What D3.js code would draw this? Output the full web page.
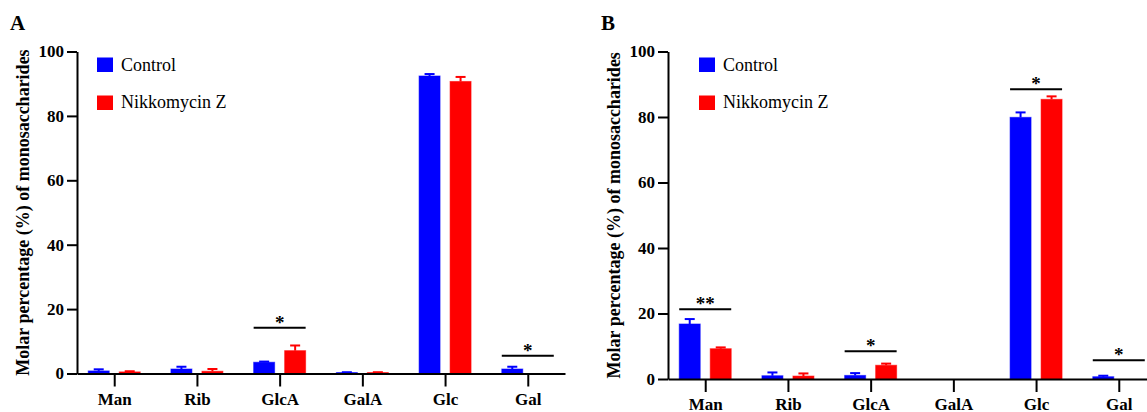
<!DOCTYPE html>
<html>
<head>
<meta charset="utf-8">
<script src="https://cdn.jsdelivr.net/npm/d3@7"></script>
<style>
body { margin: 0; background: #fff; }
svg { display: block; }
text { font-family: "Liberation Serif", "Tinos", "Times New Roman", Times, "DejaVu Serif", serif; }
</style>
</head>
<body>
<div id="chart"></div>
<script>
var w = 1147;
var h = 412;
var serif = "'Liberation Serif', Tinos, 'Times New Roman', Times, 'DejaVu Serif', serif";

var categories = ["Man", "Rib", "GlcA", "GalA", "Glc", "Gal"];
var yTicks = [0, 20, 40, 60, 80, 100];
var seriesNames = ["Control", "Nikkomycin Z"];
var seriesColors = ["#0000ff", "#ff0000"];

// panel A
var controlA = [0.8, 1.4, 3.5, 0.3, 92.4, 1.4];
var controlAErr = [0.5, 0.7, 0.2, 0.1, 0.6, 0.7];
var nikkA = [0.5, 0.7, 7.1, 0.3, 90.7, 0];
var nikkAErr = [0.2, 0.7, 1.6, 0.1, 1.4, 0];
var sigA = [{ cat: "GlcA", y: 14.2, label: "*" }, { cat: "Gal", y: 5.5, label: "*" }];

// panel B
var controlB = [16.8, 1.0, 1.1, 0, 79.9, 0.7];
var controlBErr = [1.5, 1.0, 0.7, 0, 1.5, 0.3];
var nikkB = [9.25, 0.9, 4.2, 0, 85.4, 0];
var nikkBErr = [0.4, 0.8, 0.5, 0, 0.9, 0];
var sigB = [{ cat: "Man", y: 21.3, label: "**" }, { cat: "GlcA", y: 8.5, label: "*" },
            { cat: "Glc", y: 88.5, label: "*" }, { cat: "Gal", y: 5.7, label: "*" }];

var svg = d3.select("#chart")
            .append("svg")
            .attr("width", w)
            .attr("height", h)
            .attr("font-family", serif);

function drawPanel(p) {
    var g = svg.append("g").attr("font-family", serif);

    var x = d3.scalePoint()
              .domain(categories)
              .range([p.x0, p.x1])
              .padding(0.45);
    var y = d3.scaleLinear()
              .domain([0, 100])
              .range([p.y0, p.y1]);

    var off = 15.5, bw = 21;
    var series = [
        { vals: p.control, errs: p.controlErr, dx: -off, color: seriesColors[0] },
        { vals: p.nikk, errs: p.nikkErr, dx: off, color: seriesColors[1] }
    ];

    series.forEach(function (s) {
        var rows = categories.map(function (c, i) {
            return { cat: c, v: s.vals[i], e: s.errs[i] };
        }).filter(function (d) { return d.v > 0; });

        // error bars (upper only)
        g.selectAll(null)
         .data(rows.filter(function (d) { return d.e > 0; }))
         .enter()
         .append("line")
         .attr("x1", function (d) { return x(d.cat) + s.dx; })
         .attr("x2", function (d) { return x(d.cat) + s.dx; })
         .attr("y1", function (d) { return y(d.v); })
         .attr("y2", function (d) { return y(d.v + d.e); })
         .style("stroke", s.color)
         .style("stroke-width", 2);
        g.selectAll(null)
         .data(rows.filter(function (d) { return d.e > 0; }))
         .enter()
         .append("line")
         .attr("x1", function (d) { return x(d.cat) + s.dx - 5; })
         .attr("x2", function (d) { return x(d.cat) + s.dx + 5; })
         .attr("y1", function (d) { return y(d.v + d.e); })
         .attr("y2", function (d) { return y(d.v + d.e); })
         .style("stroke", s.color)
         .style("stroke-width", 2);

        g.selectAll(null)
         .data(rows)
         .enter()
         .append("rect")
         .attr("x", function (d) { return x(d.cat) + s.dx - bw / 2; })
         .attr("width", bw)
         .attr("y", function (d) { return y(d.v); })
         .attr("height", function (d) { return y(0) - y(d.v); })
         .style("fill", s.color)
         .style("stroke", s.color)
         .style("stroke-opacity", 0.55)
         .style("stroke-width", 1);
    });

    // significance lines
    g.selectAll(null)
     .data(p.sig)
     .enter()
     .append("line")
     .attr("x1", function (d) { return x(d.cat) - 26; })
     .attr("x2", function (d) { return x(d.cat) + 26; })
     .attr("y1", function (d) { return y(d.y); })
     .attr("y2", function (d) { return y(d.y); })
     .style("stroke", "#000")
     .style("stroke-width", 2);
    g.selectAll(null)
     .data(p.sig)
     .enter()
     .append("text")
     .attr("x", function (d) { return x(d.cat); })
     .attr("y", function (d) { return y(d.y) + 1; })
     .attr("text-anchor", "middle")
     .style("font-size", "19px")
     .style("font-weight", "bold")
     .text(function (d) { return d.label; });

    // axes
    var yAxis = g.append("g")
                 .attr("transform", "translate(" + p.x0 + ",0)")
                 .call(d3.axisLeft(y).tickValues(yTicks).tickSize(10).tickSizeOuter(0).tickPadding(3));
    var xAxis = g.append("g")
                 .attr("transform", "translate(0," + p.y0 + ")")
                 .call(d3.axisBottom(x).tickSize(13).tickSizeOuter(0).tickPadding(6));

    [yAxis, xAxis].forEach(function (a) {
        a.attr("font-family", serif).attr("font-size", null);
        a.select(".domain").style("stroke", "#000").style("stroke-width", 2);
        a.selectAll(".tick line").style("stroke", "#000").style("stroke-width", 2);
        a.selectAll(".tick text")
         .style("font-size", "17px")
         .style("font-weight", "bold")
         .style("fill", "#000");
    });

    // y title
    g.append("text")
     .attr("transform", "translate(" + (p.x0 - 48) + "," + ((p.y0 + p.y1) / 2) + ") rotate(-90)")
     .attr("text-anchor", "middle")
     .style("font-size", "18px")
     .style("font-weight", "bold")
     .text("Molar percentage (%) of monosaccharides");

    // panel letter
    g.append("text")
     .attr("x", p.letterX)
     .attr("y", 30)
     .style("font-size", "21px")
     .style("font-weight", "bold")
     .text(p.letter);

    // legend
    seriesNames.forEach(function (name, i) {
        g.append("rect")
         .attr("x", p.legX)
         .attr("y", 57.5 + i * 38)
         .attr("width", 16)
         .attr("height", 14.5)
         .style("fill", seriesColors[i]);
        g.append("text")
         .attr("x", p.legX + 24)
         .attr("y", 71 + i * 37)
         .style("font-size", "18px")
         .text(name);
    });
}

drawPanel({ x0: 77, x1: 565, y0: 373.5, y1: 51.5, letter: "A", letterX: 10, legX: 97,
            control: controlA, controlErr: controlAErr, nikk: nikkA, nikkErr: nikkAErr, sig: sigA });
drawPanel({ x0: 668, x1: 1156, y0: 379, y1: 51.5, letter: "B", letterX: 601, legX: 699,
            control: controlB, controlErr: controlBErr, nikk: nikkB, nikkErr: nikkBErr, sig: sigB });
</script>
</body>
</html>
